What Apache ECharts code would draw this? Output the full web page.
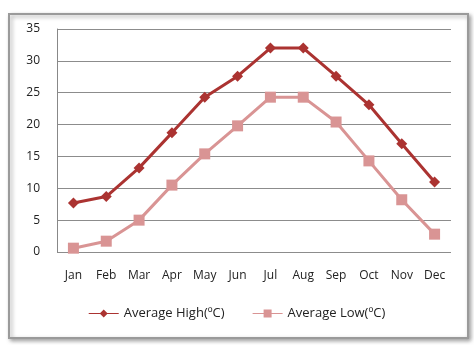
<!DOCTYPE html>
<html><head><meta charset="utf-8">
<script src="https://cdn.jsdelivr.net/npm/echarts@6/dist/echarts.min.js"></script>
<style>html,body{margin:0;padding:0;background:#fff}#c{width:474px;height:345px}</style>
</head><body><div id="c"></div>
<script>
const months = ['Jan','Feb','Mar','Apr','May','Jun','Jul','Aug','Sep','Oct','Nov','Dec'];
const avgHigh = [7.7, 8.7, 13.2, 18.7, 24.3, 27.6, 32.0, 32.0, 27.6, 23.1, 17.0, 11.0];
const avgLow = [0.6, 1.7, 5.0, 10.5, 15.4, 19.8, 24.3, 24.3, 20.4, 14.3, 8.2, 2.8];
const seriesNames = ['Average High(ºC)', 'Average Low(ºC)'];
const font = 'Open Sans';
const chart = echarts.init(document.getElementById('c'));
chart.setOption({
  animation: false,
  graphic: [{
    type: 'rect', shape: {x: 9, y: 14, width: 459, height: 324},
    style: {fill: '#fff', stroke: '#9a9a9a', lineWidth: 2, shadowBlur: 4, shadowColor: 'rgba(0,0,0,0.35)', shadowOffsetX: 2, shadowOffsetY: 2},
    z: -10
  }],
  grid: {left: 57, right: 23, top: 29, bottom: 93},
  legend: {
    bottom: 20, left: 'center', itemWidth: 30, itemHeight: 10, itemGap: 28,
    textStyle: {fontFamily: font, fontSize: 13, color: '#222'},
    data: [
      {name: seriesNames[0], icon: 'path://M0,4.5L11.5,4.5L15,1L18.5,4.5L30,4.5L30,5.5L18.5,5.5L15,9L11.5,5.5L0,5.5Z'},
      {name: seriesNames[1], icon: 'path://M0,4.5L11,4.5L11,1L19,1L19,4.5L30,4.5L30,5.5L19,5.5L19,9L11,9L11,5.5L0,5.5Z'}
    ]
  },
  xAxis: {
    type: 'category', data: months, boundaryGap: true,
    axisLine: {show: false}, axisTick: {show: false},
    axisLabel: {fontFamily: font, fontSize: 12, color: '#222', margin: 18}
  },
  yAxis: {
    type: 'value', min: 0, max: 35, interval: 5,
    axisLine: {show: true, lineStyle: {color: '#888', width: 1}}, axisTick: {show: false},
    axisLabel: {fontFamily: font, fontSize: 12, color: '#222', margin: 17},
    splitLine: {lineStyle: {color: '#8c8c8c', width: 1}}
  },
  series: [
    {name: seriesNames[0], type: 'line', data: avgHigh, symbol: 'diamond', symbolSize: 11,
     lineStyle: {color: '#ab3331', width: 3}, itemStyle: {color: '#ab3331'}},
    {name: seriesNames[1], type: 'line', data: avgLow, symbol: 'rect', symbolSize: 11,
     lineStyle: {color: '#d99494', width: 3}, itemStyle: {color: '#d99494'}}
  ]
});
</script></body></html>
